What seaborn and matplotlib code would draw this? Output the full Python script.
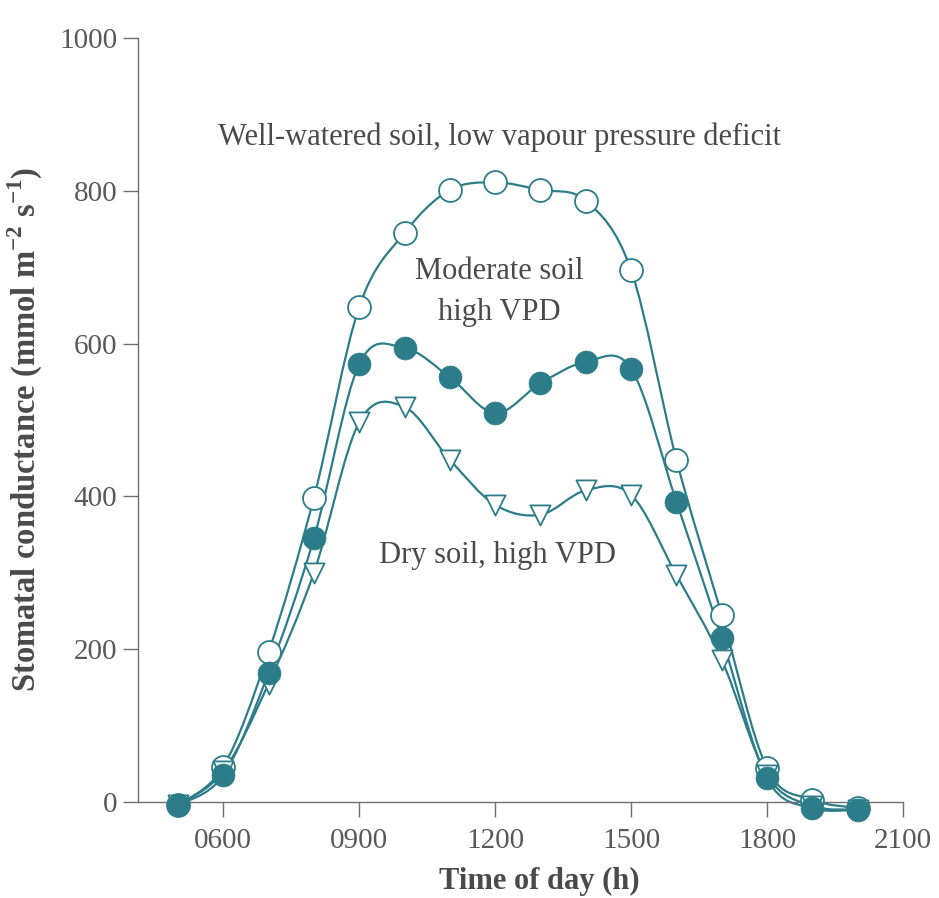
import numpy as np
import pandas as pd
import seaborn as sns
import matplotlib
matplotlib.use("Agg")
import matplotlib.pyplot as plt
from matplotlib.path import Path
from matplotlib.patches import PathPatch

# ---- data ----
hours = [5, 6, 7, 8, 9, 10, 11, 12, 13, 14, 15, 16, 17, 18, 19, 20]
well_watered = [-4, 46, 196, 398, 648, 745, 801, 811, 801, 787, 696, 448, 245, 44, 3, -8]
moderate = [-4, 35, 169, 345, 573, 594, 556, 509, 548, 576, 567, 393, 215, 31, -8, -10]
dry = [-4, 40, 155, 300, 497, 517, 448, 389, 376, 408, 402, 297, 186, 35, -5, -10]
x_ticks = [6, 9, 12, 15, 18, 21]
x_tick_labels = ["0600", "0900", "1200", "1500", "1800", "2100"]
y_ticks = [0, 200, 400, 600, 800, 1000]

TEAL = "#2c7d89"
TXT = "#4a4a4a"
TICKTXT = "#585858"
AX = "#6f6f6f"

sns.set_theme(style="white")
plt.rcParams["font.family"] = ["Liberation Serif", "DejaVu Serif"]
plt.rcParams["mathtext.fontset"] = "custom"
plt.rcParams["mathtext.rm"] = "Liberation Serif"
plt.rcParams["mathtext.bf"] = "Liberation Serif:bold"

fig = plt.figure(figsize=(9.39, 8.98), dpi=100)
ax = fig.add_axes([0.147, 0.1069, 0.8147, 0.8508])


def smooth_path(xs, ys):
    """Catmull-Rom curve through the data points, as cubic Bezier segments."""
    pts = np.column_stack([xs, ys]).astype(float)
    n = len(pts)
    verts = [pts[0]]
    codes = [Path.MOVETO]
    for i in range(n - 1):
        p0 = pts[i - 1] if i > 0 else pts[i]
        p1 = pts[i]
        p2 = pts[i + 1]
        p3 = pts[i + 2] if i + 2 < n else pts[i + 1]
        c1 = p1 + (p2 - p0) / 6.0
        c2 = p2 - (p3 - p1) / 6.0
        verts += [c1, c2, p2]
        codes += [Path.CURVE4] * 3
    return Path(verts, codes)


for series in (well_watered, dry, moderate):
    patch = PathPatch(smooth_path(hours, series), facecolor="none",
                      edgecolor=TEAL, lw=1.6, zorder=2, clip_on=False)
    ax.add_patch(patch)

df = pd.DataFrame({"hour": hours, "well": well_watered,
                   "moderate": moderate, "dry": dry})

sns.scatterplot(data=df, x="hour", y="well", ax=ax, marker="o", s=16.5**2,
                facecolor="white", edgecolor=TEAL, linewidth=1.3,
                zorder=3, clip_on=False)
sns.scatterplot(data=df, x="hour", y="dry", ax=ax, marker="v", s=14.5**2,
                facecolor="white", edgecolor=TEAL, linewidth=1.3,
                zorder=4, clip_on=False)
sns.scatterplot(data=df, x="hour", y="moderate", ax=ax, marker="o", s=16.5**2,
                color=TEAL, edgecolor=TEAL, linewidth=0.5,
                zorder=5, clip_on=False)

ax.set_xlim(4.12, 21)
ax.set_ylim(0, 1000)
ax.set_xticks(x_ticks)
ax.set_xticklabels(x_tick_labels)
ax.set_yticks(y_ticks)

for s in ("top", "right"):
    ax.spines[s].set_visible(False)
for s in ("left", "bottom"):
    ax.spines[s].set_color(AX)
    ax.spines[s].set_linewidth(1.0)

ax.tick_params(axis="both", which="major", direction="out", length=11,
               width=1.0, color=AX, labelsize=21, labelcolor=TICKTXT,
               bottom=True, left=True)
ax.tick_params(axis="x", pad=8)
ax.tick_params(axis="y", pad=4)

ax.set_xlabel("Time of day (h)", fontsize=22, fontweight="bold", color=TXT)
ax.xaxis.set_label_coords(0.525, -0.085)
ax.set_ylabel(r"Stomatal conductance (mmol m$^{\mathbf{-2}}$ s$^{\mathbf{-1}}$)",
              fontsize=23.5, fontweight="bold", color=TXT)
ax.yaxis.set_label_coords(-0.122, 0.488)

ax.text(12.1, 870, "Well-watered soil, low vapour pressure deficit",
        ha="center", va="center", fontsize=22, color=TXT)
ax.text(12.1, 694, "Moderate soil", ha="center", va="center",
        fontsize=22, color=TXT)
ax.text(12.1, 641, "high VPD", ha="center", va="center",
        fontsize=22, color=TXT)
ax.text(12.05, 323, "Dry soil, high VPD", ha="center", va="center",
        fontsize=22, color=TXT)

ax.set_facecolor("white")
fig.patch.set_facecolor("white")
fig.savefig("out.png", dpi=100, facecolor="white")
